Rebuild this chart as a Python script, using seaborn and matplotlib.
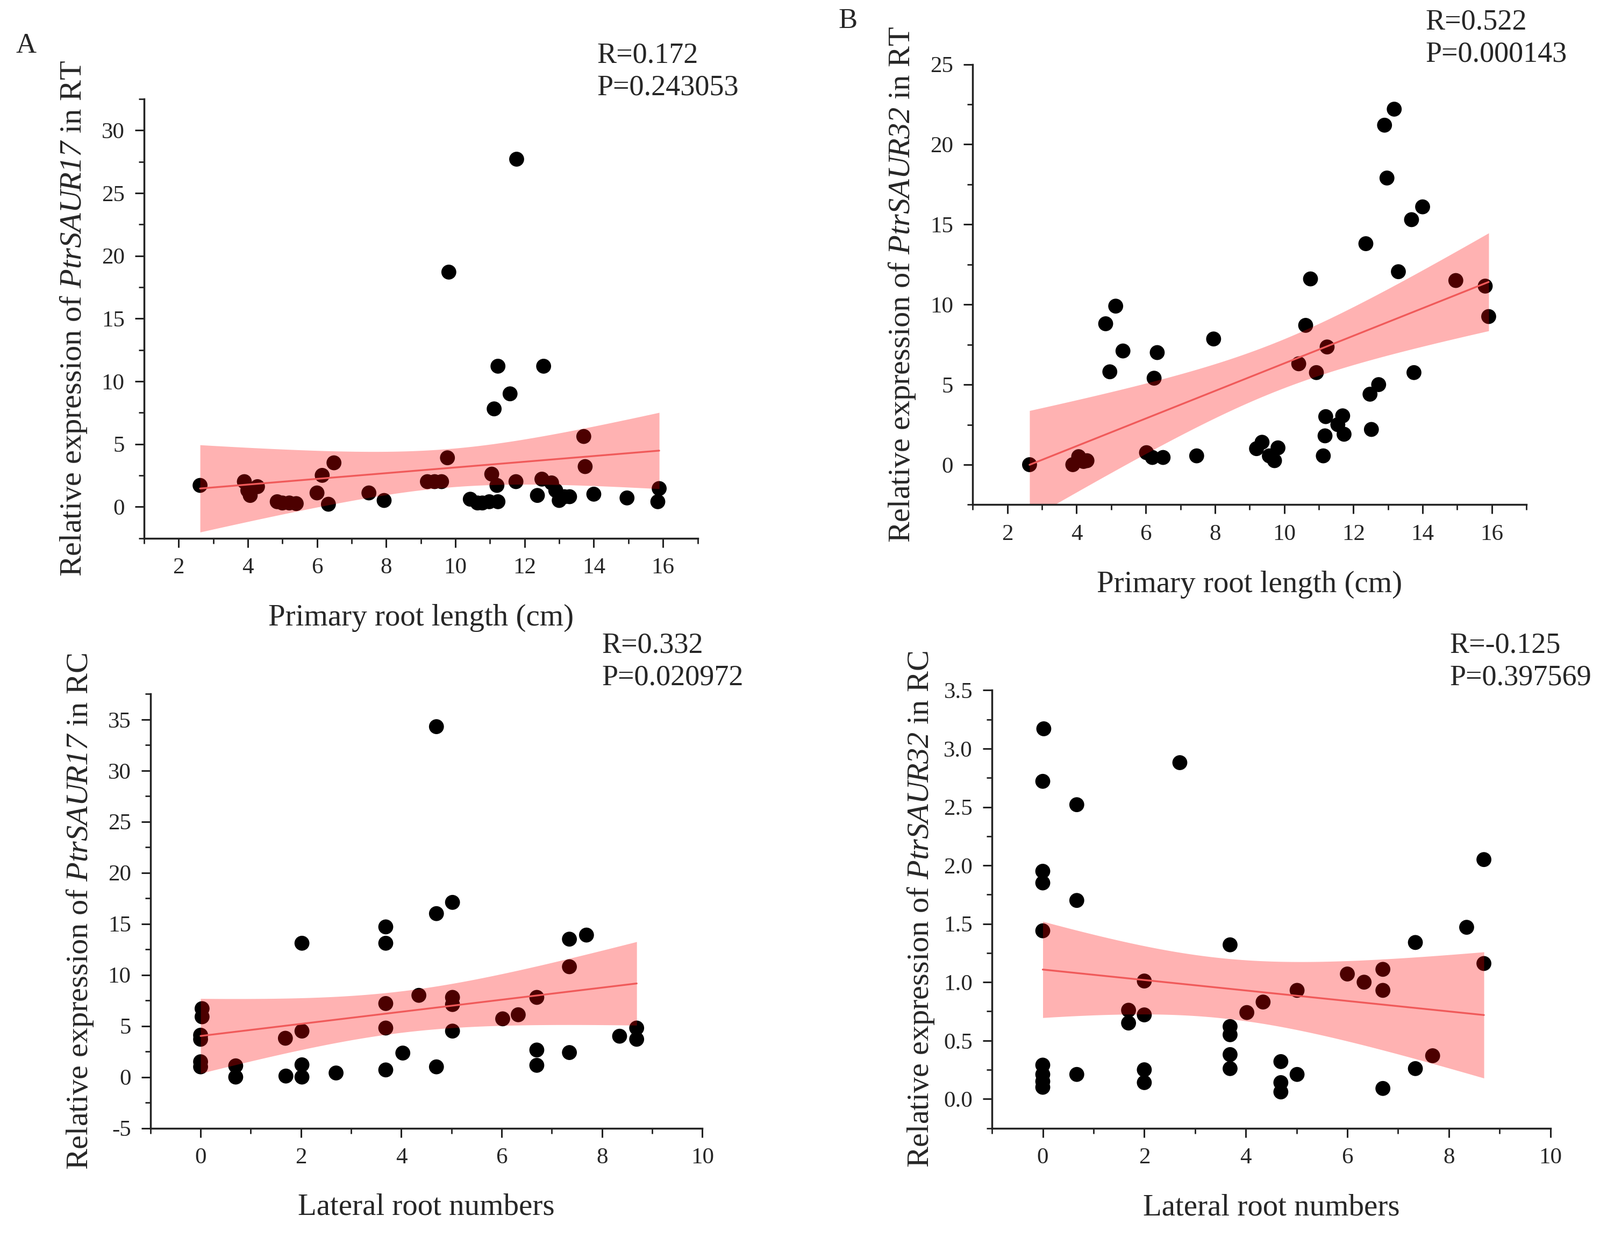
import matplotlib
matplotlib.use("Agg")
import matplotlib.pyplot as plt
import seaborn as sns
import numpy as np
from matplotlib.ticker import MultipleLocator, FormatStrFormatter

# panel A: PtrSAUR17 in RT vs primary root length
a_len = [2.62, 3.9, 4.07, 4.0, 4.28, 4.85, 5.0, 5.2, 5.4, 6.0, 6.15, 6.33, 6.49, 7.5, 7.94,
         9.19, 9.4, 9.6, 9.77, 9.81, 10.43, 10.64, 10.78, 10.98, 11.05, 11.12, 11.23, 11.2,
         11.23, 11.58, 11.77, 11.75, 12.37, 12.55, 12.5, 12.78, 12.9, 13.0, 13.15, 13.3,
         13.71, 13.75, 14.0, 14.96, 15.89, 15.85]
a_expr = [1.7, 2.0, 0.9, 1.3, 1.6, 0.4, 0.3, 0.3, 0.25, 1.1, 2.5, 0.2, 3.5, 1.1, 0.5,
          2.0, 2.0, 2.0, 3.9, 18.7, 0.6, 0.3, 0.3, 0.4, 2.6, 7.8, 11.2, 1.7,
          0.4, 9.0, 27.7, 2.0, 0.9, 11.2, 2.2, 1.9, 1.3, 0.5, 0.8, 0.8,
          5.6, 3.2, 1.0, 0.7, 1.45, 0.4]

# panel B: PtrSAUR32 in RT vs primary root length
b_len = [2.64, 3.89, 4.06, 4.2, 4.3, 4.84, 4.96, 5.13, 5.34, 6.02, 6.19, 6.24, 6.33, 6.5,
         7.47, 7.96, 9.2, 9.36, 9.57, 9.72, 9.82, 10.42, 10.62, 10.76, 10.93, 11.13, 11.18,
         11.2, 11.24, 11.55, 11.69, 11.73, 12.36, 12.48, 12.52, 12.73, 12.9, 12.97, 13.18,
         13.3, 13.68, 13.75, 14.0, 14.96, 15.81, 15.91]
b_expr = [0.0, 0.0, 0.5, 0.2, 0.25, 8.8, 5.8, 9.9, 7.1, 0.75, 0.45, 5.4, 7.0, 0.45,
          0.55, 7.85, 1.0, 1.4, 0.55, 0.25, 1.05, 6.3, 8.7, 11.6, 5.75, 0.55, 1.8,
          3.0, 7.35, 2.5, 3.05, 1.9, 13.8, 4.4, 2.2, 5.0, 21.2, 17.9, 22.2,
          12.05, 15.3, 5.75, 16.1, 11.5, 11.15, 9.25]

# panel C: PtrSAUR17 in RC vs lateral root numbers
c_num = [0.03, 0.03, 0.0, 0.0, 0.0, 0.0, 0.7, 0.7, 1.69, 1.7, 2.02, 2.02, 2.02, 2.02, 2.7,
         3.69, 3.69, 3.69, 3.69, 3.69, 4.03, 4.35, 4.7, 4.7, 4.7, 5.02, 5.02, 5.02, 5.02,
         6.02, 6.33, 6.7, 6.7, 6.7, 7.35, 7.35, 7.35, 7.69, 8.35, 8.69, 8.69]
c_expr = [6.7, 5.9, 4.1, 3.7, 1.5, 1.0, 1.1, 0.0, 3.8, 0.1, 13.1, 4.5, 1.2, 0.0, 0.4,
          14.7, 13.1, 7.2, 4.8, 0.7, 2.35, 8.0, 34.3, 16.0, 1.0, 17.1, 7.8, 7.1, 4.5,
          5.7, 6.1, 7.8, 2.65, 1.15, 13.5, 10.8, 2.4, 13.9, 4.0, 4.8, 3.7]

# panel D: PtrSAUR32 in RC vs lateral root numbers
d_num = [0.02, 0.0, 0.0, 0.0, 0.0, 0.0, 0.0, 0.0, 0.0, 0.67, 0.67, 0.67, 1.69, 1.69, 2.0,
         2.0, 2.0, 2.0, 2.7, 3.69, 3.69, 3.69, 3.69, 3.69, 4.02, 4.34, 4.69, 4.69, 4.69,
         5.01, 5.01, 6.0, 6.33, 6.7, 6.7, 6.7, 7.34, 7.34, 7.68, 8.35, 8.69, 8.69]
d_expr = [3.17, 2.72, 1.95, 1.85, 1.44, 0.29, 0.21, 0.15, 0.10, 2.52, 1.70, 0.21, 0.76, 0.65,
          1.01, 0.72, 0.25, 0.14, 2.88, 1.32, 0.62, 0.55, 0.38, 0.26, 0.74, 0.83, 0.32, 0.14,
          0.06, 0.93, 0.21, 1.07, 1.0, 1.11, 0.93, 0.09, 1.34, 0.26, 0.37, 1.47, 2.05, 1.16]

stats = ["R=0.172\nP=0.243053", "R=0.522\nP=0.000143",
         "R=0.332\nP=0.020972", "R=-0.125\nP=0.397569"]

sns.set_style("ticks")
plt.rcParams["font.family"] = ["Liberation Serif", "DejaVu Serif"]
plt.rcParams["mathtext.fontset"] = "custom"
plt.rcParams["mathtext.rm"] = "Liberation Serif:italic"
plt.rcParams["mathtext.it"] = "Liberation Serif:italic"


def conf_band(x, y, grid, t=2.015):
    # analytic 95% confidence band of the OLS fit (like Origin draws it)
    x = np.asarray(x, float)
    y = np.asarray(y, float)
    n = len(x)
    slope, icpt = np.polyfit(x, y, 1)
    resid = y - (slope * x + icpt)
    s = np.sqrt(np.sum(resid ** 2) / (n - 2))
    sxx = np.sum((x - x.mean()) ** 2)
    fit = slope * grid + icpt
    half = t * s * np.sqrt(1.0 / n + (grid - x.mean()) ** 2 / sxx)
    return fit - half, fit + half


fig = plt.figure(figsize=(29.76, 23.0), dpi=100)

panels = [
    dict(pos=[0.090, 0.565, 0.346, 0.355], x=a_len, y=a_expr, xlim=(1, 17), ylim=(-2.5, 32.5),
         xmaj=2, xmin=1, ymaj=5, ymin=2.5, yfmt="%d", xlab="Primary root length (cm)",
         ylab=r"Relative expression of $PtrSAUR17$ in RT", txt=(0.373, 0.942)),
    dict(pos=[0.608, 0.592, 0.346, 0.356], x=b_len, y=b_expr, xlim=(1, 17), ylim=(-2.5, 25),
         xmaj=2, xmin=1, ymaj=5, ymin=2.5, yfmt="%d", xlab="Primary root length (cm)",
         ylab=r"Relative expression of $PtrSAUR32$ in RT", txt=(0.891, 0.969)),
    dict(pos=[0.094, 0.088, 0.345, 0.351], x=c_num, y=c_expr, xlim=(-1, 10), ylim=(-5, 37.5),
         xmaj=2, xmin=1, ymaj=5, ymin=2.5, yfmt="%d", xlab="Lateral root numbers",
         ylab=r"Relative expression of $PtrSAUR17$ in RC", txt=(0.376, 0.465)),
    dict(pos=[0.620, 0.088, 0.349, 0.354], x=d_num, y=d_expr, xlim=(-1, 10), ylim=(-0.25, 3.5),
         xmaj=2, xmin=1, ymaj=0.5, ymin=0.25, yfmt="%.1f", xlab="Lateral root numbers",
         ylab=r"Relative expression of $PtrSAUR32$ in RC", txt=(0.906, 0.465)),
]

for p, st in zip(panels, stats):
    ax = fig.add_axes(p["pos"])
    sns.scatterplot(x=p["x"], y=p["y"], ax=ax, color="black", s=400, edgecolor="none",
                    linewidth=0, zorder=1)
    grid = np.linspace(min(p["x"]), max(p["x"]), 200)
    lo, hi = conf_band(p["x"], p["y"], grid)
    ax.fill_between(grid, lo, hi, color="#ff0000", alpha=0.3, linewidth=0, zorder=1.5)
    sns.regplot(x=p["x"], y=p["y"], ax=ax, scatter=False, ci=None, color="red",
                line_kws=dict(color="#f05a5a", lw=2.4, zorder=2))
    ax.set_xlim(*p["xlim"])
    ax.set_ylim(*p["ylim"])
    ax.xaxis.set_major_locator(MultipleLocator(p["xmaj"]))
    ax.xaxis.set_minor_locator(MultipleLocator(p["xmin"]))
    ax.yaxis.set_major_locator(MultipleLocator(p["ymaj"]))
    ax.yaxis.set_minor_locator(MultipleLocator(p["ymin"]))
    ax.yaxis.set_major_formatter(FormatStrFormatter(p["yfmt"]))
    sns.despine(ax=ax)
    for s in ["left", "bottom"]:
        ax.spines[s].set_linewidth(2.5)
        ax.spines[s].set_color("#222222")
    ax.tick_params(which="major", length=12, width=2.2, labelsize=31, color="#222222", pad=14)
    ax.tick_params(which="minor", length=7, width=2.0, color="#222222")
    ax.set_xlabel(p["xlab"], fontsize=41)
    ax.set_ylabel(p["ylab"], fontsize=42)
    ax.xaxis.set_label_coords(0.5, -0.15)
    ax.yaxis.set_label_coords(-0.10, 0.5)
    ax.patch.set_alpha(0)
    fig.text(p["txt"][0], p["txt"][1], st, fontsize=39, ha="left", va="center",
             linespacing=1.25)

fig.text(0.010, 0.963, "A", fontsize=38, ha="left", va="center")
fig.text(0.524, 0.983, "B", fontsize=38, ha="left", va="center")

fig.savefig("out.png", dpi=100, facecolor="white")
